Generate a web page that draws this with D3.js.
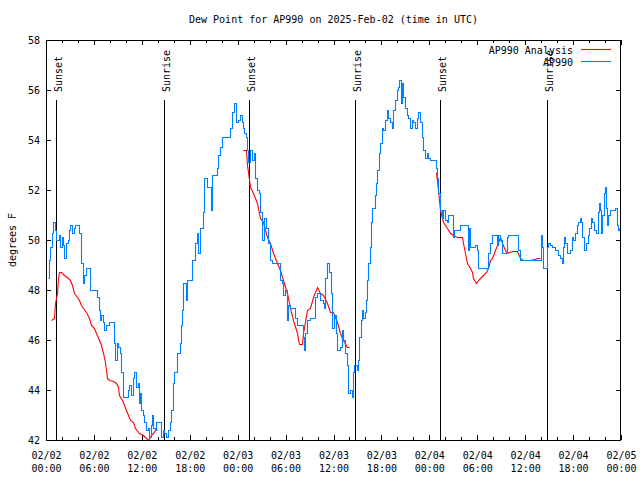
<!DOCTYPE html>
<html><head><meta charset="utf-8">
<script src="https://cdn.jsdelivr.net/npm/d3@7"></script>
<style>
body{margin:0;background:#fff;}
svg{display:block;}
text{font-family:"DejaVu Sans Mono",monospace;font-size:10px;fill:#000;}
</style></head><body>
<script>
// ---------- data ----------
const title = "Dew Point for AP990 on 2025-Feb-02 (time in UTC)";
const yLabel = "degrees F";
const seriesNames = ["AP990 Analysis", "AP990"];
const seriesColors = ["#ff0000", "#0080ff"];
const startUTC = Date.UTC(2025, 1, 2, 0, 0);
const spanHours = 72;
const yTicks = [42, 44, 46, 48, 50, 52, 54, 56, 58];

// AP990 observations: hours since 02/02 00:00 UTC, dew point (F)
const blueHours = [0.21,0.38,0.50,0.75,0.88,1.13,1.25,1.50,1.63,1.75,2.00,2.13,2.25,2.50,2.75,2.88,3.01,3.26,3.51,3.63,4.01,4.13,4.38,4.63,4.76,5.01,5.38,5.51,6.26,6.39,6.64,6.76,6.89,7.14,7.26,7.51,7.89,8.39,8.51,8.64,8.89,9.02,9.27,9.39,9.64,10.14,10.27,10.39,10.64,10.89,11.02,11.27,11.52,11.65,11.77,11.90,12.15,12.27,12.52,12.77,12.90,13.15,13.27,13.40,13.65,13.77,14.15,14.40,14.65,14.78,15.03,15.28,15.53,15.65,15.90,16.03,16.28,16.40,16.78,16.91,17.03,17.16,17.41,17.53,17.66,18.03,18.28,18.66,18.91,19.03,19.28,19.66,19.79,20.04,20.16,20.54,20.66,20.79,21.16,21.41,21.54,21.79,22.04,22.79,23.04,23.29,23.54,23.79,24.04,24.29,24.54,24.67,24.79,25.04,25.17,25.30,25.55,25.80,26.05,26.17,26.42,26.67,26.80,27.05,27.30,27.55,27.80,28.05,28.30,29.05,29.30,29.55,29.68,29.93,30.18,30.30,30.55,30.93,31.18,31.43,32.06,32.18,32.31,32.43,32.68,33.06,33.43,33.69,33.94,34.31,34.69,34.81,34.94,35.19,35.44,35.69,35.81,36.06,36.31,36.44,36.81,37.06,37.19,37.44,37.69,37.82,38.07,38.32,38.44,38.57,38.94,39.07,39.20,39.45,39.57,39.70,39.95,40.07,40.20,40.32,40.57,40.70,40.82,41.20,41.32,41.45,41.70,41.82,42.07,42.20,42.45,42.70,42.82,43.07,43.32,43.45,43.70,43.95,44.08,44.20,44.45,44.58,44.70,44.95,45.20,45.33,45.58,45.83,45.95,46.21,46.46,46.58,46.83,47.08,47.21,47.46,47.71,47.83,48.08,48.71,48.83,48.96,49.08,49.34,49.58,49.71,49.96,50.21,50.33,50.84,50.96,51.09,51.59,51.84,52.72,52.84,52.97,53.10,53.47,53.72,53.97,54.10,55.22,55.35,55.60,55.85,56.22,56.47,56.60,56.85,57.10,57.48,57.73,57.85,58.98,59.10,59.35,61.86,61.98,62.11,62.23,62.61,62.73,62.86,63.11,63.36,63.48,63.74,63.99,64.11,64.36,64.61,64.74,64.86,64.99,65.24,65.36,65.61,65.87,65.99,66.24,66.49,66.62,66.87,66.99,67.12,67.37,67.62,67.87,67.99,68.24,68.37,68.62,68.87,69.12,69.25,69.37,69.50,69.62,69.87,70.00,70.12,70.25,70.37,70.62,71.25,71.50,71.63,71.75];
const blueValues = [48.5,49.2,49.7,50.3,50.7,50.4,50.0,50.0,50.2,49.7,50.1,49.8,49.3,49.9,50.0,50.4,50.6,50.3,50.5,50.6,50.6,50.3,49.1,48.3,48.6,48.9,48.9,48.0,48.0,47.7,47.2,46.8,47.0,46.7,46.4,46.6,46.7,46.7,45.9,45.2,45.9,45.7,45.5,44.7,43.7,43.7,44.0,44.2,43.8,44.5,44.7,44.1,44.3,43.5,43.9,43.2,43.0,42.7,42.4,42.5,42.1,42.6,43.0,42.5,42.4,42.7,42.7,42.1,42.4,42.3,42.1,42.4,42.7,43.2,44.3,44.7,44.7,45.5,45.9,46.6,47.2,48.3,48.3,47.6,48.4,48.4,49.2,49.9,50.3,49.5,50.5,51.1,52.5,52.5,52.1,52.1,51.2,52.6,52.6,52.9,53.4,53.7,54.1,54.1,54.5,55.1,55.5,54.7,54.8,55.0,54.7,54.5,54.3,54.1,53.6,53.1,53.6,53.2,53.5,52.5,52.0,51.9,51.1,50.0,50.9,50.5,49.9,49.2,49.1,49.1,48.4,48.3,47.8,48.0,46.8,47.4,47.3,47.3,46.9,46.6,46.6,46.1,45.6,46.3,46.8,46.9,46.9,47.7,47.9,47.6,47.5,47.3,48.5,49.1,48.7,47.9,46.5,47.0,46.3,45.6,45.7,46.4,46.0,45.5,45.0,43.9,44.0,43.7,44.7,45.0,44.8,45.2,46.1,46.8,47.2,46.9,47.1,47.6,48.4,49.1,49.7,50.7,51.3,51.8,52.3,52.8,53.5,53.9,54.5,54.4,54.8,55.2,54.9,54.7,54.5,55.2,55.6,56.0,56.1,56.4,55.5,56.3,55.7,55.3,55.0,54.9,54.5,54.8,54.7,54.5,54.9,55.1,54.7,54.1,53.6,53.3,53.5,53.3,53.2,53.2,52.9,52.5,51.9,51.2,50.9,51.2,50.8,50.7,51.0,51.0,50.1,50.4,50.4,50.6,50.6,49.6,50.5,49.7,49.7,49.8,49.6,48.9,48.9,49.5,49.9,50.2,50.2,49.8,50.2,50.0,49.5,49.5,50.1,50.2,50.2,49.6,49.2,49.2,50.2,49.7,48.9,48.9,49.7,49.9,49.8,49.7,49.7,49.6,49.6,49.4,49.3,49.1,49.7,50.1,49.9,49.5,49.5,49.6,50.1,50.0,50.3,50.6,50.7,50.9,50.7,50.1,49.6,49.9,50.2,50.5,50.9,50.7,50.4,50.3,51.1,51.5,51.2,50.3,51.0,51.9,52.1,51.3,50.6,51.0,51.2,51.3,50.6,50.4,50.5];

// AP990 Analysis (null = gap)
const redHours = [0.63,1.00,1.13,1.38,1.50,1.63,1.88,2.25,2.75,3.01,3.26,3.51,3.88,4.13,4.38,4.63,5.01,5.38,5.63,6.01,6.26,6.64,6.89,7.14,7.39,7.64,7.89,8.39,8.77,9.02,9.14,9.52,9.77,10.02,10.27,10.52,10.89,11.14,11.65,12.15,12.40,12.77,13.15,13.40,13.65,13.90,
  20.0,
  24.67,25.04,25.17,25.30,25.55,25.92,26.42,26.80,27.17,27.67,28.05,28.43,28.93,29.30,29.68,30.18,30.55,30.93,31.43,31.68,32.06,32.18,32.68,33.06,33.43,33.94,34.31,34.69,35.19,35.56,35.94,36.44,36.81,37.19,37.69,37.94,
  43.0,
  48.83,49.08,49.34,49.58,49.71,50.21,50.59,50.96,51.46,52.09,52.22,52.47,52.72,53.10,53.35,53.47,53.85,54.10,54.35,54.73,55.10,55.35,55.60,55.85,56.22,56.47,56.85,57.10,57.48,57.73,58.35,58.98,59.35,59.72,60.60,61.23,61.48,61.86];
const redValues = [46.8,46.9,47.5,47.9,48.5,48.7,48.7,48.6,48.5,48.4,48.2,47.9,47.7,47.6,47.4,47.3,47.1,46.9,46.6,46.5,46.3,46.0,45.8,45.5,45.1,44.5,44.4,44.35,44.3,44.1,43.8,43.6,43.4,43.2,43.0,42.8,42.7,42.5,42.3,42.2,42.1,42.0,42.2,42.3,42.4,42.4,
  null,
  53.6,53.6,53.0,52.7,52.1,51.9,51.5,50.9,50.7,50.1,49.9,49.5,49.1,48.8,48.4,47.9,47.3,46.8,46.3,45.84,45.84,46.3,47.2,47.3,47.7,48.1,47.9,47.8,47.5,47.1,47.1,46.7,46.3,46.0,45.7,45.7,
  null,
  52.7,52.0,51.2,50.9,50.7,50.5,50.3,50.2,50.1,50.1,49.9,49.5,49.1,48.9,48.7,48.5,48.3,48.4,48.5,48.6,48.7,48.9,49.2,49.3,49.6,49.8,50.1,49.9,49.6,49.5,49.55,49.55,49.3,49.2,49.2,49.25,49.3,49.3];

// Sun events (hours since start)
const sunHours = [1.28, 14.83, 25.36, 38.74, 49.38, 62.76];
const sunLabels = ["Sunset", "Sunrise", "Sunset", "Sunrise", "Sunset", "Sunrise"];

// ---------- chart ----------
const W = 640, H = 480;
const L = 46, R = 621, T = 40, B = 440;
const toDate = h => new Date(startUTC + h * 3600e3);
const px = v => Math.round(v) + 0.5;

const svg = d3.select("body").append("svg").attr("width", W).attr("height", H);

const x = d3.scaleUtc().domain([toDate(0), toDate(spanHours)]).range([L, R]);
const y = d3.scaleLinear().domain([yTicks[0], yTicks[yTicks.length - 1]]).range([B, T]);

svg.append("defs").append("clipPath").attr("id", "clip")
  .append("rect").attr("x", L).attr("y", T).attr("width", R - L).attr("height", B - T);

// title
svg.append("text").attr("x", (L + R) / 2).attr("y", 23).attr("text-anchor", "middle").text(title);

// y label
svg.append("text").attr("transform", `translate(16,${(T + B) / 2}) rotate(-90)`)
  .attr("text-anchor", "middle").text(yLabel);

const fmtDate = d3.utcFormat("%m/%d"), fmtTime = d3.utcFormat("%H:%M");
const axesG = svg.append("g").style("shape-rendering", "crispEdges");

// bottom axis with labels
const gx = axesG.append("g").attr("transform", `translate(0,${B})`)
  .call(d3.axisBottom(x).ticks(d3.utcHour.every(6)).tickSize(-5).tickSizeOuter(0))
  .call(g => g.select(".domain").remove());
gx.selectAll(".tick text").each(function(d) {
  const t = d3.select(this).attr("dy", null).attr("y", null).text(null);
  t.append("tspan").attr("x", 0).attr("y", 19).text(fmtDate(d));
  t.append("tspan").attr("x", 0).attr("y", 32).text(fmtTime(d));
});
gx.selectAll(".tick text").style("font-family", "DejaVu Sans Mono").style("font-size", "10px").attr("fill", "#000");

// minor x ticks (bottom/top)
axesG.append("g").attr("transform", `translate(0,${B})`)
  .call(d3.axisBottom(x).ticks(d3.utcHour.every(2)).tickSize(-3).tickSizeOuter(0).tickFormat(""))
  .call(g => g.select(".domain").remove());
axesG.append("g").attr("transform", `translate(0,${T})`)
  .call(d3.axisTop(x).ticks(d3.utcHour.every(2)).tickSize(-3).tickSizeOuter(0).tickFormat(""))
  .call(g => g.select(".domain").remove());
axesG.append("g").attr("transform", `translate(0,${T})`)
  .call(d3.axisTop(x).ticks(d3.utcHour.every(6)).tickSize(-5).tickSizeOuter(0).tickFormat(""))
  .call(g => g.select(".domain").remove());

// y axes
const gy = axesG.append("g").attr("transform", `translate(${L},0)`)
  .call(d3.axisLeft(y).tickValues(yTicks).tickSize(-5).tickSizeOuter(0).tickPadding(6).tickFormat(d3.format("d")))
  .call(g => g.select(".domain").remove());
gy.selectAll(".tick text").attr("dy", "0.36em").style("font-family", "DejaVu Sans Mono").style("font-size", "10px").attr("fill", "#000");
axesG.append("g").attr("transform", `translate(${R},0)`)
  .call(d3.axisRight(y).tickValues(yTicks).tickSize(-5).tickSizeOuter(0).tickFormat(""))
  .call(g => g.select(".domain").remove());

// sun lines
const sunTop = y(yTicks[0] + 0.85 * (yTicks[yTicks.length - 1] - yTicks[0]));
const sunTextY = y(yTicks[0] + 0.87 * (yTicks[yTicks.length - 1] - yTicks[0]));
const sunG = svg.append("g");
sunHours.forEach((h, i) => {
  const sx = px(x(toDate(h)));
  sunG.append("line").attr("x1", sx).attr("x2", sx).attr("y1", sunTop).attr("y2", B)
    .attr("stroke", "#000").attr("stroke-width", 1);
  sunG.append("text").attr("transform", `translate(${sx + 5},${sunTextY}) rotate(-90)`)
    .attr("text-anchor", "start").text(sunLabels[i]);
});

// data
const plot = svg.append("g").attr("clip-path", "url(#clip)");
const blueData = blueHours.map((h, i) => ({ t: toDate(h), v: blueValues[i] }));
const redData = redHours.map((h, i) => ({ t: toDate(h), v: redValues[i] }));

plot.append("path").datum(redData)
  .attr("fill", "none").attr("stroke", seriesColors[0]).attr("stroke-width", 1.1)
  .attr("d", d3.line().defined(d => d.v !== null).x(d => px(x(d.t))).y(d => px(y(d.v))));
plot.append("path").datum(blueData)
  .attr("fill", "none").attr("stroke", seriesColors[1]).attr("stroke-width", 1.1)
  .attr("d", d3.line().curve(d3.curveStepAfter).x(d => px(x(d.t))).y(d => px(y(d.v))));

// legend
seriesNames.forEach((name, i) => {
  const ly = 49.5 + i * 12;
  svg.append("text").attr("x", 573).attr("y", ly + 4).attr("text-anchor", "end").text(name);
  svg.append("path").attr("d", `M581,${ly}H611`)
    .attr("fill", "none").attr("stroke", seriesColors[i]).attr("stroke-width", 1.1);
});

// border
svg.append("rect").attr("x", L + 0.5).attr("y", T + 0.5).attr("width", R - L - 1).attr("height", B - T)
  .attr("fill", "none").attr("stroke", "#000").attr("stroke-width", 1);
</script>
</body></html>
